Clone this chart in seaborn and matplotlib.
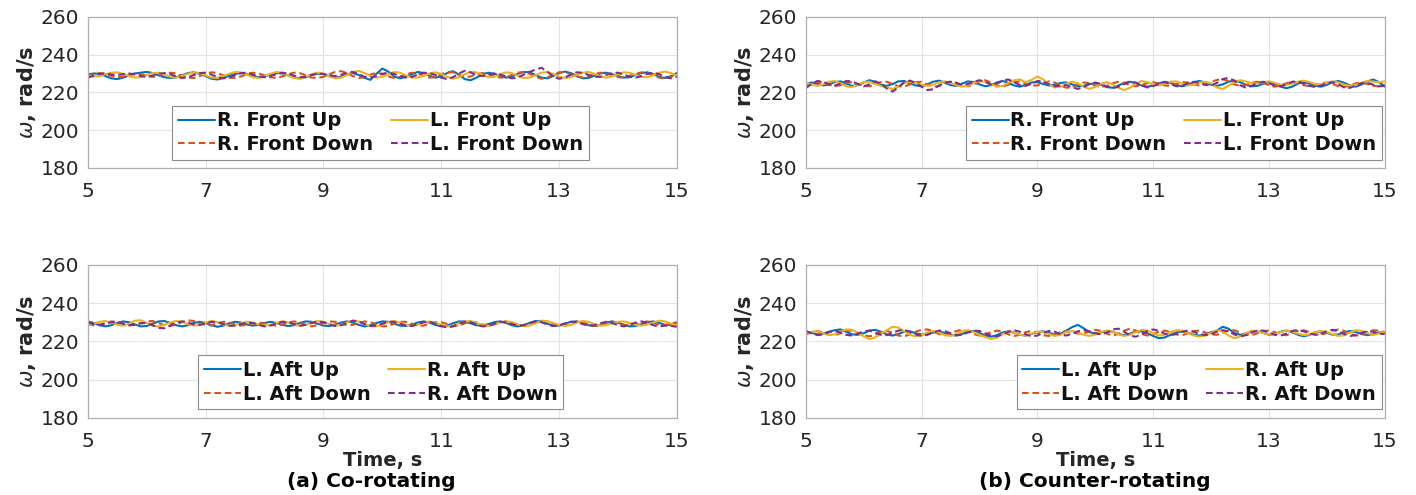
import numpy as np
import pandas as pd
import matplotlib
matplotlib.use("Agg")
import matplotlib.pyplot as plt
import seaborn as sns

# ---------------- data ----------------
TIME = np.round(np.linspace(5.0, 15.0, 101), 1)

# (a) Co-rotating, front rotors
CO_R_FRONT_UP = [229.5, 230.0, 229.8, 228.6, 227.4, 227.0, 227.8, 229.0, 230.0, 230.4,
                 230.8, 230.2, 229.0, 228.0, 227.6, 228.0, 229.0, 230.2, 230.6, 229.8,
                 228.6, 227.2, 226.8, 227.6, 228.8, 229.8, 230.2, 229.6, 228.6, 228.0,
                 228.4, 229.4, 230.2, 230.0, 229.0, 227.8, 227.4, 228.0, 229.2, 229.8,
                 229.6, 228.6, 227.8, 228.2, 229.4, 230.2, 229.2, 227.6, 226.6, 229.8,
                 232.6, 231.0, 228.4, 227.4, 228.2, 229.6, 230.8, 230.2, 228.8, 227.8,
                 228.4, 230.2, 231.2, 229.4, 227.0, 226.4, 227.8, 229.6, 230.4, 229.8,
                 228.8, 227.8, 228.4, 229.8, 230.8, 230.6, 229.2, 227.8, 227.4, 228.6,
                 230.2, 231.0, 230.2, 228.6, 227.4, 227.6, 228.8, 230.0, 230.4, 229.6,
                 228.6, 227.8, 228.0, 229.2, 230.2, 230.6, 229.6, 228.2, 227.6, 228.6,
                 230.2]
CO_R_FRONT_DOWN = [228.6, 229.6, 230.2, 229.8, 228.8, 228.0, 228.4, 229.4, 230.0, 229.6,
                   228.8, 228.2, 228.6, 229.6, 230.4, 230.0, 228.8, 227.8, 227.6, 228.6,
                   229.8, 230.6, 230.2, 229.0, 227.8, 227.6, 228.4, 229.6, 230.4, 230.0,
                   229.0, 228.0, 227.6, 228.4, 229.6, 230.4, 230.2, 229.0, 227.8, 227.6,
                   228.2, 229.6, 230.8, 231.2, 230.2, 228.6, 227.6, 228.0, 229.4, 230.4,
                   229.8, 228.4, 227.6, 228.2, 229.4, 230.4, 230.0, 228.8, 227.8, 228.0,
                   229.6, 230.8, 230.6, 229.2, 228.0, 228.4, 229.6, 230.2, 229.6, 228.6,
                   227.8, 228.0, 229.2, 230.4, 230.8, 229.8, 228.2, 227.2, 227.8, 229.4,
                   230.6, 230.8, 229.6, 228.4, 227.8, 228.4, 229.6, 230.4, 230.2, 229.0,
                   228.0, 227.8, 228.8, 229.8, 230.6, 230.2, 229.0, 227.8, 227.2, 228.2,
                   229.4]
CO_L_FRONT_UP = [229.0, 228.4, 228.6, 229.6, 230.4, 230.6, 229.8, 228.6, 227.8, 228.0,
                 229.2, 230.2, 230.4, 229.4, 228.2, 227.8, 228.6, 229.8, 230.6, 230.2,
                 229.0, 227.8, 227.6, 228.6, 229.8, 230.8, 230.6, 229.4, 228.0, 227.6,
                 228.4, 229.8, 230.8, 230.4, 229.0, 227.6, 227.2, 228.2, 229.6, 230.4,
                 229.8, 228.4, 227.4, 227.8, 229.2, 230.8, 231.4, 230.2, 228.6, 227.8,
                 228.2, 229.6, 230.8, 230.4, 229.0, 227.8, 227.8, 228.8, 230.0, 230.6,
                 229.8, 228.2, 227.2, 228.0, 229.6, 230.8, 230.6, 229.2, 228.0, 228.2,
                 229.6, 230.6, 230.2, 228.8, 227.6, 227.8, 229.0, 230.4, 230.8, 229.8,
                 228.4, 227.6, 228.0, 229.2, 230.4, 230.8, 229.8, 228.4, 227.8, 228.4,
                 229.6, 230.6, 230.4, 229.2, 228.2, 228.0, 229.0, 230.4, 231.0, 230.2,
                 228.8]
CO_L_FRONT_DOWN = [227.8, 228.8, 229.8, 230.0, 229.4, 229.2, 229.6, 230.0, 229.4, 228.6,
                   228.2, 228.8, 229.8, 230.2, 229.6, 228.4, 227.6, 228.0, 229.2, 230.2,
                   230.4, 229.4, 228.0, 227.4, 227.8, 229.0, 230.2, 230.4, 229.4, 228.4,
                   228.0, 228.6, 229.6, 230.4, 230.0, 228.8, 228.0, 228.2, 229.2, 230.0,
                   229.8, 229.0, 228.6, 229.2, 230.4, 230.8, 229.6, 228.2, 227.8, 228.6,
                   229.8, 230.4, 229.8, 228.6, 227.8, 228.2, 229.4, 230.4, 230.2, 229.2,
                   227.8, 227.0, 228.0, 230.0, 231.4, 230.6, 229.0, 228.6, 229.4, 230.0,
                   229.4, 228.4, 227.4, 227.8, 229.4, 230.8, 232.0, 233.0, 231.0, 228.4,
                   227.2, 227.8, 229.4, 230.6, 230.4, 229.2, 228.2, 228.2, 229.2, 230.2,
                   230.4, 229.4, 228.2, 227.8, 228.6, 229.8, 230.4, 229.6, 228.2, 227.4,
                   228.2]

# (a) Co-rotating, aft rotors
CO_L_AFT_UP = [230.4, 229.6, 228.4, 227.8, 228.4, 229.6, 230.4, 230.0, 228.8, 227.8,
               228.0, 229.2, 230.4, 230.6, 229.6, 228.4, 227.8, 228.4, 229.6, 230.2,
               229.6, 228.4, 227.6, 228.2, 229.4, 230.2, 229.8, 228.8, 228.2, 228.6,
               229.6, 230.2, 229.6, 228.6, 228.0, 228.4, 229.6, 230.4, 230.2, 229.2,
               228.2, 228.0, 228.8, 229.8, 230.4, 229.8, 228.6, 227.8, 228.4, 229.6,
               230.4, 230.2, 229.2, 228.2, 228.0, 228.8, 229.8, 230.4, 229.8, 228.6,
               227.8, 228.2, 229.4, 230.4, 230.4, 229.4, 228.4, 228.2, 229.0, 230.0,
               230.4, 229.6, 228.4, 227.8, 228.4, 229.6, 230.6, 230.4, 229.2, 228.2,
               228.2, 229.2, 230.2, 230.4, 229.6, 228.4, 228.0, 228.6, 229.8, 230.4,
               229.8, 228.6, 227.8, 228.0, 229.0, 230.0, 230.4, 229.6, 228.6, 228.6,
               229.8]
CO_L_AFT_DOWN = [229.0, 228.4, 228.6, 229.6, 230.4, 230.2, 229.2, 228.4, 228.6, 229.6,
                 230.4, 230.6, 229.6, 228.4, 228.0, 228.8, 230.0, 231.0, 230.6, 229.4,
                 228.4, 228.4, 229.4, 230.2, 229.8, 228.8, 228.2, 228.6, 229.4, 229.8,
                 229.4, 228.6, 228.2, 228.8, 229.8, 230.4, 229.8, 228.6, 227.8, 228.4,
                 229.6, 230.4, 230.2, 229.2, 228.4, 228.6, 229.6, 230.4, 230.0, 228.8,
                 227.8, 228.0, 229.2, 230.2, 230.2, 229.2, 228.2, 228.2, 229.2, 230.0,
                 230.0, 229.0, 228.0, 228.2, 229.4, 230.2, 229.8, 228.8, 228.2, 228.8,
                 229.8, 230.4, 229.8, 228.6, 228.0, 228.6, 229.8, 230.8, 230.4, 229.2,
                 228.4, 228.6, 229.6, 230.4, 230.0, 228.8, 228.0, 228.4, 229.6, 230.2,
                 229.6, 228.6, 228.2, 228.8, 229.8, 230.4, 229.6, 228.6, 228.4, 229.2,
                 230.0]
CO_R_AFT_UP = [228.4, 229.2, 230.2, 230.6, 229.8, 228.6, 228.2, 229.2, 230.8, 231.0,
               229.6, 228.2, 227.8, 228.6, 229.8, 230.6, 230.2, 229.0, 228.2, 228.6,
               229.8, 230.6, 230.0, 228.8, 228.0, 228.4, 229.4, 230.2, 229.8, 228.8,
               228.2, 228.6, 229.6, 230.4, 230.0, 228.8, 228.0, 228.6, 229.8, 230.6,
               230.2, 229.0, 228.2, 228.6, 229.8, 230.8, 230.4, 229.0, 227.8, 227.8,
               228.8, 230.0, 230.6, 229.8, 228.6, 228.0, 228.6, 229.8, 230.4, 229.8,
               228.6, 227.8, 228.2, 229.4, 230.4, 230.6, 229.6, 228.4, 228.0, 228.8,
               229.8, 230.4, 230.0, 228.8, 228.0, 228.2, 229.4, 230.4, 230.6, 229.6,
               228.6, 228.0, 228.6, 229.8, 230.6, 230.2, 229.0, 228.2, 228.4, 229.4,
               230.2, 230.4, 229.6, 228.6, 228.2, 228.8, 229.8, 230.8, 230.4, 229.2,
               228.4]
CO_R_AFT_DOWN = [229.8, 229.0, 228.6, 229.2, 230.0, 230.0, 229.2, 228.4, 228.6, 229.4,
                 229.6, 228.4, 227.0, 226.8, 228.2, 229.8, 230.4, 229.8, 228.8, 228.6,
                 229.4, 230.2, 230.0, 229.0, 228.2, 228.2, 229.0, 229.8, 229.6, 228.6,
                 227.8, 228.2, 229.4, 230.2, 230.0, 229.0, 228.2, 228.6, 229.6, 230.4,
                 230.0, 228.8, 228.0, 228.4, 229.6, 230.8, 230.4, 229.0, 228.0, 228.2,
                 229.2, 230.2, 230.2, 229.2, 228.2, 228.0, 229.0, 230.0, 230.2, 229.2,
                 228.0, 227.2, 227.8, 229.2, 230.2, 230.0, 228.8, 227.8, 228.0, 229.2,
                 230.2, 230.0, 229.0, 228.2, 228.4, 229.6, 230.4, 230.0, 228.8, 228.0,
                 228.2, 229.4, 230.2, 230.0, 229.0, 228.2, 228.4, 229.4, 230.2, 229.6,
                 228.4, 227.8, 228.6, 229.8, 230.4, 229.6, 228.4, 227.8, 228.2, 228.0,
                 227.6]

# (b) Counter-rotating, front rotors
CT_R_FRONT_UP = [224.6, 225.2, 224.6, 223.6, 224.2, 225.4, 225.8, 224.6, 223.4, 223.8,
                 225.2, 226.4, 225.6, 224.0, 223.4, 224.4, 225.8, 226.0, 224.8, 223.6,
                 223.2, 224.2, 225.6, 226.2, 225.2, 223.8, 223.4, 224.6, 225.8, 225.4,
                 224.2, 223.2, 223.8, 225.2, 226.0, 225.0, 223.6, 223.0, 224.0, 225.2,
                 225.4, 224.4, 223.6, 224.0, 225.0, 225.2, 224.2, 223.2, 223.4, 224.4,
                 224.8, 224.0, 222.8, 222.4, 223.6, 225.0, 225.6, 224.8, 223.6, 223.0,
                 223.6, 224.8, 225.6, 225.0, 223.8, 223.2, 224.0, 225.4, 226.0, 225.2,
                 224.0, 223.4, 224.2, 225.6, 226.2, 225.4, 224.0, 223.2, 223.4, 224.6,
                 225.4, 224.6, 223.0, 222.2, 223.0, 224.6, 225.4, 224.6, 223.4, 223.0,
                 224.0, 225.4, 226.0, 225.0, 223.6, 223.0, 224.2, 225.8, 226.8, 225.4,
                 223.0]
CT_R_FRONT_DOWN = [223.0, 224.4, 225.6, 225.2, 224.0, 223.2, 223.8, 225.0, 225.4, 224.4,
                   223.4, 223.2, 224.2, 225.4, 225.6, 224.4, 223.2, 223.0, 224.2, 225.4,
                   225.6, 224.2, 223.0, 223.2, 224.6, 225.6, 225.2, 223.8, 223.2, 224.2,
                   225.8, 226.4, 225.2, 223.6, 223.0, 224.0, 225.4, 225.8, 224.6, 223.6,
                   223.6, 224.8, 225.8, 225.2, 223.6, 222.4, 222.8, 224.2, 225.2, 224.8,
                   223.6, 222.8, 223.4, 224.8, 225.6, 225.0, 223.8, 223.2, 223.8, 225.0,
                   225.4, 224.6, 223.6, 223.4, 224.4, 225.4, 225.2, 224.2, 223.6, 224.2,
                   225.4, 226.6, 227.0, 225.8, 224.2, 223.4, 223.8, 225.0, 225.6, 225.0,
                   223.8, 223.0, 223.6, 224.8, 225.6, 225.0, 223.8, 223.2, 223.8, 224.8,
                   225.2, 224.4, 223.2, 222.8, 223.6, 224.8, 225.2, 224.4, 223.4, 223.2,
                   224.0]
CT_L_FRONT_UP = [225.2, 224.2, 223.4, 224.2, 225.6, 226.0, 224.8, 223.2, 222.8, 224.0,
                 225.4, 225.6, 224.4, 223.4, 222.6, 221.8, 223.0, 224.8, 225.6, 225.0,
                 224.0, 223.4, 224.0, 225.2, 225.8, 225.0, 223.8, 223.0, 223.6, 225.0,
                 226.0, 225.6, 224.2, 223.0, 223.4, 225.0, 226.4, 226.8, 225.4, 226.6,
                 228.4, 226.8, 224.2, 222.6, 223.0, 224.6, 225.6, 224.8, 223.0, 221.8,
                 222.8, 224.6, 225.4, 224.2, 222.4, 221.2, 222.4, 224.6, 226.0, 225.4,
                 224.2, 223.6, 224.4, 225.6, 225.8, 224.6, 223.6, 224.0, 225.2, 225.6,
                 224.8, 222.6, 221.8, 223.4, 225.4, 226.4, 225.8, 224.8, 224.6, 225.4,
                 225.8, 225.0, 224.0, 223.8, 224.6, 225.6, 226.2, 225.4, 224.4, 224.2,
                 225.0, 225.8, 225.2, 224.0, 223.4, 224.0, 225.2, 226.0, 225.6, 225.4,
                 225.8]
CT_L_FRONT_DOWN = [222.2, 224.4, 226.0, 225.6, 224.2, 223.6, 224.6, 226.0, 225.8, 224.4,
                   223.2, 224.2, 225.8, 224.6, 222.0, 220.4, 222.6, 225.4, 226.2, 225.0,
                   223.0, 221.2, 221.6, 223.6, 225.2, 225.6, 224.8, 224.0, 224.4, 225.6,
                   226.4, 225.6, 224.2, 224.6, 226.2, 226.8, 225.4, 223.8, 223.4, 224.6,
                   226.0, 225.8, 224.2, 223.2, 223.6, 223.8, 222.6, 221.8, 222.8, 224.4,
                   225.2, 224.4, 223.0, 222.2, 223.0, 224.4, 225.6, 225.2, 223.6, 222.6,
                   223.2, 224.6, 225.4, 224.4, 223.2, 223.4, 224.8, 225.6, 225.0, 224.0,
                   223.6, 225.0, 227.0, 227.6, 226.2, 223.8, 222.4, 223.4, 225.0, 225.6,
                   224.8, 223.6, 223.2, 224.2, 225.6, 225.8, 224.6, 223.4, 222.8, 223.6,
                   224.8, 225.4, 224.2, 222.6, 222.4, 223.6, 224.8, 225.0, 224.0, 223.2,
                   223.4]

# (b) Counter-rotating, aft rotors
CT_L_AFT_UP = [225.2, 224.4, 223.6, 224.0, 225.0, 225.8, 226.2, 225.0, 223.6, 223.4,
               224.2, 225.6, 226.0, 225.0, 223.6, 223.0, 223.8, 225.0, 225.2, 224.2,
               223.6, 223.8, 224.6, 225.0, 224.4, 223.4, 223.0, 223.8, 225.0, 225.4,
               224.4, 223.0, 222.4, 223.2, 224.6, 225.2, 224.6, 223.4, 223.0, 223.8,
               224.8, 225.2, 224.4, 223.6, 224.0, 225.6, 227.4, 228.6, 226.8, 224.8,
               224.0, 224.6, 225.4, 225.0, 223.8, 223.2, 224.0, 225.2, 225.2, 224.2,
               222.8, 221.6, 222.0, 223.4, 224.6, 225.2, 224.4, 223.4, 223.0, 223.6,
               224.8, 225.6, 227.6, 226.6, 224.4, 223.4, 224.0, 225.2, 225.4, 224.4,
               223.4, 223.8, 225.0, 225.6, 224.8, 223.4, 222.6, 223.4, 224.8, 225.2,
               224.4, 223.4, 223.6, 224.8, 225.4, 224.8, 223.8, 223.2, 223.8, 224.6,
               224.6]
CT_L_AFT_DOWN = [223.6, 224.6, 225.4, 224.6, 223.4, 223.2, 224.2, 225.4, 225.6, 224.4,
                 223.2, 222.6, 223.4, 224.8, 225.4, 224.4, 223.0, 222.6, 223.6, 225.0,
                 226.0, 226.2, 225.2, 223.8, 223.2, 224.0, 225.4, 226.0, 225.2, 223.8,
                 223.0, 223.6, 224.8, 225.6, 225.0, 223.6, 222.8, 223.4, 224.8, 225.4,
                 224.6, 223.2, 222.8, 223.6, 224.8, 225.2, 224.6, 224.0, 224.2, 225.2,
                 226.0, 225.4, 224.0, 223.0, 223.8, 225.6, 226.6, 225.6, 223.8, 223.0,
                 223.8, 225.0, 225.6, 224.8, 223.6, 223.2, 224.2, 225.4, 225.6, 224.6,
                 223.6, 223.4, 224.4, 225.6, 225.8, 224.6, 223.4, 223.2, 224.2, 225.4,
                 225.6, 224.8, 223.6, 223.2, 224.2, 225.4, 225.8, 224.8, 223.6, 223.4,
                 224.4, 225.6, 226.2, 225.4, 224.0, 223.0, 223.4, 224.8, 225.8, 225.6,
                 224.8]
CT_R_AFT_UP = [224.0, 225.0, 225.2, 224.2, 223.2, 223.6, 225.0, 226.2, 226.0, 224.6,
               222.6, 221.2, 222.0, 224.0, 225.8, 227.6, 227.2, 225.2, 223.4, 222.6,
               223.2, 224.6, 225.4, 224.6, 223.2, 222.8, 223.8, 225.2, 225.8, 224.8,
               223.4, 222.2, 221.2, 222.0, 223.8, 225.0, 224.6, 223.4, 223.0, 224.0,
               225.0, 225.0, 223.8, 222.8, 223.4, 224.8, 225.4, 224.6, 223.4, 222.8,
               223.6, 224.8, 225.6, 225.0, 223.6, 222.8, 223.4, 224.8, 226.0, 225.6,
               224.2, 223.0, 223.4, 224.8, 225.8, 225.6, 224.2, 223.0, 222.4, 223.0,
               224.4, 225.8, 225.2, 223.0, 221.6, 222.4, 224.2, 225.6, 225.4, 224.4,
               223.6, 223.8, 224.8, 225.6, 225.2, 224.0, 223.2, 223.6, 224.8, 225.4,
               224.8, 223.6, 222.8, 223.2, 224.6, 225.8, 225.4, 224.2, 223.4, 224.0,
               225.2]
CT_R_AFT_DOWN = [225.4, 224.2, 223.2, 223.6, 224.8, 225.4, 224.6, 223.4, 223.0, 224.0,
                 225.2, 225.6, 224.6, 223.4, 223.2, 224.4, 225.6, 226.0, 225.0, 223.6,
                 222.8, 223.4, 224.6, 225.6, 225.4, 224.2, 223.2, 223.4, 224.6, 225.6,
                 225.4, 224.2, 223.0, 222.6, 223.6, 225.0, 225.8, 225.0, 223.6, 222.6,
                 223.0, 224.4, 225.4, 225.0, 223.6, 223.0, 224.0, 225.2, 225.8, 225.2,
                 224.2, 223.6, 224.6, 226.2, 226.6, 225.0, 223.0, 222.4, 223.6, 225.4,
                 226.2, 225.4, 224.0, 223.2, 223.8, 225.0, 225.6, 225.0, 223.8, 223.2,
                 223.8, 225.0, 225.8, 225.2, 223.6, 222.6, 223.2, 224.6, 225.6, 225.6,
                 224.6, 223.4, 223.0, 224.0, 225.4, 226.0, 225.2, 224.0, 223.4, 224.0,
                 225.4, 226.0, 225.2, 223.8, 222.8, 223.2, 224.4, 225.4, 225.0, 224.0,
                 223.8]

FRONT_LABELS = ["R. Front Up", "R. Front Down", "L. Front Up", "L. Front Down"]
AFT_LABELS = ["L. Aft Up", "L. Aft Down", "R. Aft Up", "R. Aft Down"]
X_TICKS = [5, 7, 9, 11, 13, 15]
Y_TICKS = [180, 200, 220, 240, 260]
CAPTIONS = ["(a) Co-rotating", "(b) Counter-rotating"]

# ---------------- style ----------------
COLORS = ["#0072BD", "#D95319", "#EDB120", "#7E2F8E"]
STYLES = ["-", "--", "-", "--"]

sns.set_theme(style="white")
plt.rcParams["font.family"] = ["DejaVu Sans"]
plt.rcParams["mathtext.fontset"] = "dejavusans"

fig = plt.figure(figsize=(14.16, 4.95), dpi=100)

panels = [
    ((0.062, 0.661, 0.416, 0.305), [CO_R_FRONT_UP, CO_R_FRONT_DOWN, CO_L_FRONT_UP, CO_L_FRONT_DOWN],
     FRONT_LABELS, "lower center", (0.497, 0.055)),
    ((0.569, 0.661, 0.409, 0.305), [CT_R_FRONT_UP, CT_R_FRONT_DOWN, CT_L_FRONT_UP, CT_L_FRONT_DOWN],
     FRONT_LABELS, "lower right", (0.995, 0.055)),
    ((0.062, 0.156, 0.416, 0.309), [CO_L_AFT_UP, CO_L_AFT_DOWN, CO_R_AFT_UP, CO_R_AFT_DOWN],
     AFT_LABELS, "lower center", (0.497, 0.055)),
    ((0.569, 0.156, 0.409, 0.309), [CT_L_AFT_UP, CT_L_AFT_DOWN, CT_R_AFT_UP, CT_R_AFT_DOWN],
     AFT_LABELS, "lower right", (0.995, 0.055)),
]

for idx, (rect, series, labels, loc, anchor) in enumerate(panels):
    ax = fig.add_axes(rect)
    rows = []
    for lab, vals in zip(labels, series):
        rows.append(pd.DataFrame({"t": TIME, "w": vals, "name": lab}))
    df = pd.concat(rows, ignore_index=True)
    sns.lineplot(data=df, x="t", y="w", hue="name", style="name",
                 hue_order=labels, style_order=labels,
                 palette=dict(zip(labels, COLORS)),
                 dashes={l: ("" if s == "-" else (3.2, 1.8)) for l, s in zip(labels, STYLES)},
                 linewidth=1.5, ax=ax, legend=True)
    ax.set_xlim(5, 15)
    ax.set_ylim(180, 260)
    ax.set_xticks(X_TICKS)
    ax.set_yticks(Y_TICKS)
    ax.grid(True, color="#e3e3e3", linewidth=0.8)
    ax.set_axisbelow(True)
    for sp in ax.spines.values():
        sp.set_color("#b0b0b0")
        sp.set_linewidth(0.9)
    ax.tick_params(axis="x", direction="in", length=3, width=0.8, color="#b0b0b0",
                   labelsize=14.5, labelcolor="#262626", pad=10)
    ax.tick_params(axis="y", direction="in", length=3, width=0.8, color="#b0b0b0",
                   labelsize=14.5, labelcolor="#262626", pad=6)
    ax.set_ylabel(r"$\omega$, rad/s", fontsize=15, fontweight="bold", color="#262626", labelpad=2)
    if idx >= 2:
        ax.set_xlabel("Time, s", fontsize=14, fontweight="bold", color="#262626", labelpad=0)
    else:
        ax.set_xlabel("")
    handles, _ = ax.get_legend_handles_labels()
    leg = ax.legend(handles[:4], labels, ncol=2, loc=loc, bbox_to_anchor=anchor,
                    fancybox=False, framealpha=1, edgecolor="#8c8c8c",
                    prop={"weight": "bold", "size": 14},
                    handlelength=1.9, handletextpad=0.1, columnspacing=0.9,
                    borderpad=0.3, labelspacing=0.22, borderaxespad=0.0)
    leg.get_frame().set_linewidth(0.8)
    for txt in leg.get_texts():
        txt.set_color("#111111")

fig.text(0.262, 0.028, CAPTIONS[0], ha="center", va="center", fontsize=14.5,
         fontweight="bold", color="black")
fig.text(0.7735, 0.028, CAPTIONS[1], ha="center", va="center", fontsize=14.5,
         fontweight="bold", color="black")

fig.savefig("out.png", dpi=100)
